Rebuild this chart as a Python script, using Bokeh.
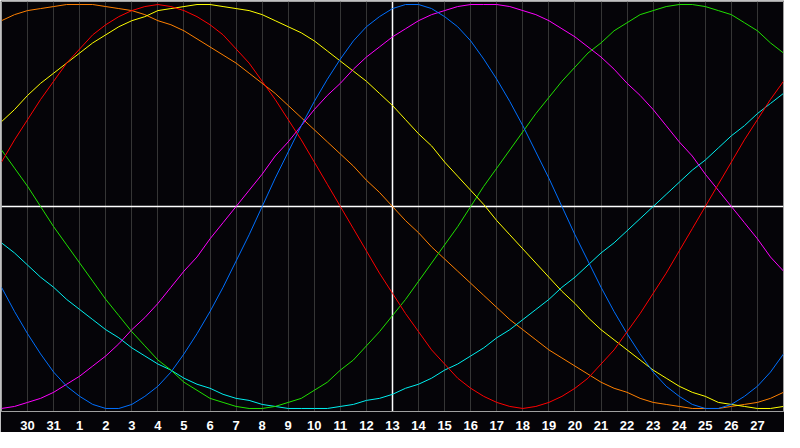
from bokeh.plotting import figure
from bokeh.embed import file_html
from bokeh.resources import INLINE
from bokeh.models import FixedTicker, Span, Range1d

# Sample positions: day index 0..30 in half-day steps
# (index 0 = 29th of previous month, index 15 = today, the 13th)
days = [i / 2 for i in range(61)]
tick_days = list(range(1, 30))
tick_labels = ["30", "31"] + [str(d) for d in range(1, 28)]
today_index = 15

# Values, every half day (-1 .. 1)
blue = [-0.40, -0.52, -0.63, -0.73, -0.82, -0.89, -0.94, -0.98, -1.0, -1.0,
        -0.98, -0.94, -0.89, -0.82, -0.73, -0.63, -0.52, -0.40, -0.27, -0.14,
        0.0, 0.14, 0.27, 0.40, 0.52, 0.63, 0.73, 0.82, 0.89, 0.94,
        0.98, 1.0, 1.0, 0.98, 0.94, 0.89, 0.82, 0.73, 0.63, 0.52,
        0.40, 0.27, 0.14, 0.0, -0.14, -0.27, -0.40, -0.52, -0.63, -0.73,
        -0.82, -0.89, -0.94, -0.98, -1.0, -1.0, -0.98, -0.94, -0.89, -0.82,
        -0.73]
red = [0.22, 0.33, 0.43, 0.53, 0.62, 0.71, 0.78, 0.85, 0.90, 0.94,
       0.97, 0.99, 1.0, 0.99, 0.97, 0.94, 0.90, 0.85, 0.78, 0.71,
       0.62, 0.53, 0.43, 0.33, 0.22, 0.11, 0.0, -0.11, -0.22, -0.33,
       -0.43, -0.53, -0.62, -0.71, -0.78, -0.85, -0.90, -0.94, -0.97, -0.99,
       -1.0, -0.99, -0.97, -0.94, -0.90, -0.85, -0.78, -0.71, -0.62, -0.53,
       -0.43, -0.33, -0.22, -0.11, 0.0, 0.11, 0.22, 0.33, 0.43, 0.53,
       0.62]
green = [0.28, 0.19, 0.10, 0.0, -0.10, -0.19, -0.28, -0.37, -0.46, -0.54,
         -0.62, -0.69, -0.76, -0.81, -0.87, -0.91, -0.95, -0.97, -0.99, -1.0,
         -1.0, -0.99, -0.97, -0.95, -0.91, -0.87, -0.81, -0.76, -0.69, -0.62,
         -0.54, -0.46, -0.37, -0.28, -0.19, -0.10, 0.0, 0.10, 0.19, 0.28,
         0.37, 0.46, 0.54, 0.62, 0.69, 0.76, 0.81, 0.87, 0.91, 0.95,
         0.97, 0.99, 1.0, 1.0, 0.99, 0.97, 0.95, 0.91, 0.87, 0.81,
         0.76]
magenta = [-1.0, -0.99, -0.97, -0.95, -0.92, -0.88, -0.84, -0.79, -0.74, -0.68,
           -0.61, -0.55, -0.48, -0.40, -0.32, -0.25, -0.16, -0.08, 0.0, 0.08,
           0.16, 0.25, 0.32, 0.40, 0.48, 0.55, 0.61, 0.68, 0.74, 0.79,
           0.84, 0.88, 0.92, 0.95, 0.97, 0.99, 1.0, 1.0, 1.0, 0.99,
           0.97, 0.95, 0.92, 0.88, 0.84, 0.79, 0.74, 0.68, 0.61, 0.55,
           0.48, 0.40, 0.32, 0.25, 0.16, 0.08, 0.0, -0.08, -0.16, -0.25,
           -0.32]
yellow = [0.42, 0.48, 0.55, 0.61, 0.66, 0.71, 0.76, 0.81, 0.85, 0.89,
          0.92, 0.94, 0.97, 0.98, 0.99, 1.0, 1.0, 0.99, 0.98, 0.97,
          0.95, 0.92, 0.89, 0.86, 0.82, 0.77, 0.72, 0.67, 0.62, 0.56,
          0.50, 0.43, 0.36, 0.30, 0.22, 0.15, 0.08, 0.01, -0.07, -0.14,
          -0.21, -0.28, -0.35, -0.42, -0.48, -0.55, -0.61, -0.66, -0.71, -0.76,
          -0.81, -0.85, -0.89, -0.92, -0.94, -0.97, -0.98, -0.99, -1.0, -1.0,
          -0.99]
orange = [0.92, 0.95, 0.97, 0.98, 0.99, 1.0, 1.0, 1.0, 0.99, 0.98,
          0.97, 0.95, 0.92, 0.90, 0.87, 0.83, 0.79, 0.75, 0.71, 0.66,
          0.61, 0.56, 0.50, 0.44, 0.38, 0.32, 0.26, 0.20, 0.13, 0.07,
          0.0, -0.07, -0.13, -0.20, -0.26, -0.32, -0.38, -0.44, -0.50, -0.56,
          -0.61, -0.66, -0.71, -0.75, -0.79, -0.83, -0.87, -0.90, -0.92, -0.95,
          -0.97, -0.98, -0.99, -1.0, -1.0, -1.0, -0.99, -0.98, -0.97, -0.95,
          -0.92]
cyan = [-0.18, -0.23, -0.29, -0.35, -0.40, -0.46, -0.51, -0.56, -0.61, -0.65,
        -0.70, -0.74, -0.78, -0.81, -0.85, -0.88, -0.90, -0.93, -0.95, -0.96,
        -0.98, -0.99, -1.0, -1.0, -1.0, -1.0, -0.99, -0.98, -0.96, -0.95,
        -0.93, -0.90, -0.88, -0.85, -0.81, -0.78, -0.74, -0.70, -0.65, -0.61,
        -0.56, -0.51, -0.46, -0.40, -0.35, -0.29, -0.23, -0.18, -0.12, -0.06,
        0.0, 0.06, 0.12, 0.18, 0.23, 0.29, 0.35, 0.40, 0.46, 0.51,
        0.56]

series = [
    (orange, "#ff8000"),
    (yellow, "#ffff00"),
    (cyan, "#00f0f0"),
    (magenta, "#ff00ff"),
    (green, "#20e000"),
    (blue, "#0070ff"),
    (red, "#ff0000"),
]

BG = "#050408"

p = figure(width=784, height=432, output_backend="svg", toolbar_location=None,
           x_range=Range1d(0, 30), y_range=Range1d(-1.015, 1.015),
           min_border_left=1, min_border_right=1, min_border_top=1, min_border_bottom=21)
p.background_fill_color = BG
p.border_fill_color = BG
p.outline_line_color = "#a0a0a0"
p.outline_line_width = 1

p.yaxis.visible = False
p.ygrid.visible = False

ticker = FixedTicker(ticks=tick_days)
p.xaxis.ticker = ticker
p.xaxis.major_label_overrides = {d: lab for d, lab in zip(tick_days, tick_labels)}
p.xaxis.axis_line_color = "#a0a0a0"
p.xaxis.major_tick_line_color = None
p.xaxis.minor_tick_line_color = None
p.xaxis.major_label_text_color = "white"
p.xaxis.major_label_text_font = "Liberation Sans"
p.xaxis.major_label_text_font_style = "bold"
p.xaxis.major_label_text_font_size = "13px"
p.xaxis.major_label_standoff = 3

p.xgrid.ticker = ticker
p.xgrid.grid_line_color = "#353535"
p.xgrid.grid_line_width = 1

p.add_layout(Span(location=0, dimension="width", line_color="white", line_width=1.5, level="underlay"))
p.add_layout(Span(location=today_index, dimension="height", line_color="white", line_width=1.5, level="underlay"))

for vals, col in series:
    p.line(days, vals, line_color=col, line_width=1)

open("out.html", "w").write(file_html(p, INLINE))
